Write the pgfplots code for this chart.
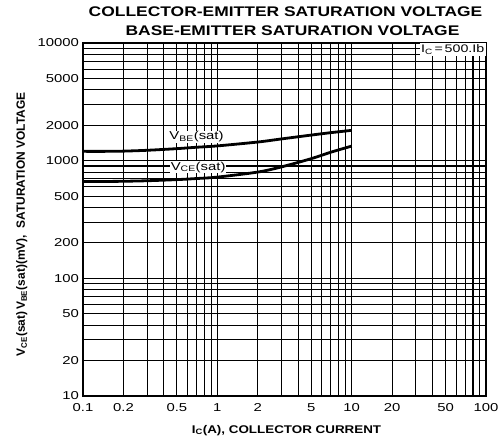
\documentclass[border=0pt]{standalone}
\usepackage{fontspec}
\setmainfont{Liberation Sans}
\newfontfamily\titlefont[FakeStretch=1.25]{Liberation Sans}
\newfontfamily\xlabfont[FakeStretch=1.2]{Liberation Sans}
\newfontfamily\tickfont[FakeStretch=1.3]{Liberation Sans}
\usepackage{pgfplots}
\pgfplotsset{compat=1.18}

\pgfplotstableread{
x y
0.1 1200
0.15 1200
0.2 1205
0.3 1225
0.5 1265
0.7 1300
1 1335
2 1440
3 1530
5 1650
7 1730
10 1810
}\vbe
\pgfplotstableread{
x y
0.1 665
0.15 666
0.2 668
0.3 675
0.5 690
0.7 705
1 725
2 800
3 885
5 1040
7 1180
10 1330
}\vce

\begin{document}
\begin{tikzpicture}
\begin{axis}[name=ax, at={(0,0)}, anchor=south west,
  scale only axis, width=403bp, height=353bp,
  xmode=log, ymode=log, xmin=0.1, xmax=100, ymin=10, ymax=10000,
  xtick={0.1,0.2,0.5,1,2,5,10,20,50,100},
  xticklabels={0.1,0.2,0.5,1,2,5,10,20,50,100},
  minor xtick={0.3,0.4,0.6,0.7,0.8,0.9,3,4,6,7,8,9,30,40,60,70,80,90},
  ytick={10,20,50,100,200,500,1000,2000,5000,10000},
  yticklabels={10,20,50,100,200,500,1000,2000,5000,10000},
  minor ytick={30,40,60,70,80,90,300,400,600,700,800,900,3000,4000,6000,7000,8000,9000},
  grid=both,
  major grid style={black, line width=1.1bp},
  minor grid style={black, line width=1.1bp},
  major tick length=0pt, minor tick length=0pt,
  axis line style={line width=1.8bp},
  /pgf/number format/assume math mode=true,
  ticklabel style={font=\tickfont\fontsize{11.5}{12}\selectfont},
  xticklabel style={anchor=base, yshift=-16bp},
  yticklabel style={anchor=east, xshift=-0.5bp},
  clip=false,
]
\addplot[black, line width=2.8bp, smooth] table[x=x,y=y] {\vbe};
\addplot[black, line width=2.8bp, smooth] table[x=x,y=y] {\vce};
\node[fill=white, inner sep=0.8bp, font=\tickfont\fontsize{11.5}{12}\selectfont] at (axis cs:0.70,1600) {V\textsubscript{BE}(sat)};
\draw[line width=0.9bp] (axis cs:0.52,880) -- (axis cs:1.0,880);
\node[fill=white, inner sep=0.8bp, font=\tickfont\fontsize{11.5}{12}\selectfont] at (axis cs:0.72,880) {V\textsubscript{CE}(sat)};
\node[fill=white, anchor=north east, inner sep=1.5bp, font=\tickfont\fontsize{11}{12}\selectfont] at (rel axis cs:1,1) {I\textsubscript{C}\,=\,500.Ib};
\end{axis}
\node[anchor=base, font=\titlefont\bfseries\fontsize{14}{16}\selectfont] at ([yshift=26bp, xshift=1bp]ax.north) {COLLECTOR-EMITTER SATURATION VOLTAGE};
\node[anchor=base, font=\titlefont\bfseries\fontsize{14}{16}\selectfont] at ([yshift=7bp, xshift=8bp]ax.north) {BASE-EMITTER SATURATION VOLTAGE};
\node[anchor=base, font=\xlabfont\bfseries\fontsize{11.2}{12}\selectfont] at ([yshift=-37bp, xshift=2bp]ax.south) {I\textsubscript{C}(A), COLLECTOR CURRENT};
\node[anchor=base, rotate=90, font=\bfseries\fontsize{12}{12}\selectfont] at ([xshift=-58bp, yshift=-5bp]ax.west) {V\textsubscript{CE}(sat)\,V\textsubscript{BE}(sat)(mV), \ SATURATION VOLTAGE};
\pgfresetboundingbox
\path[use as bounding box] (-83bp,-43bp) rectangle (421bp,396bp);
\end{tikzpicture}
\end{document}
